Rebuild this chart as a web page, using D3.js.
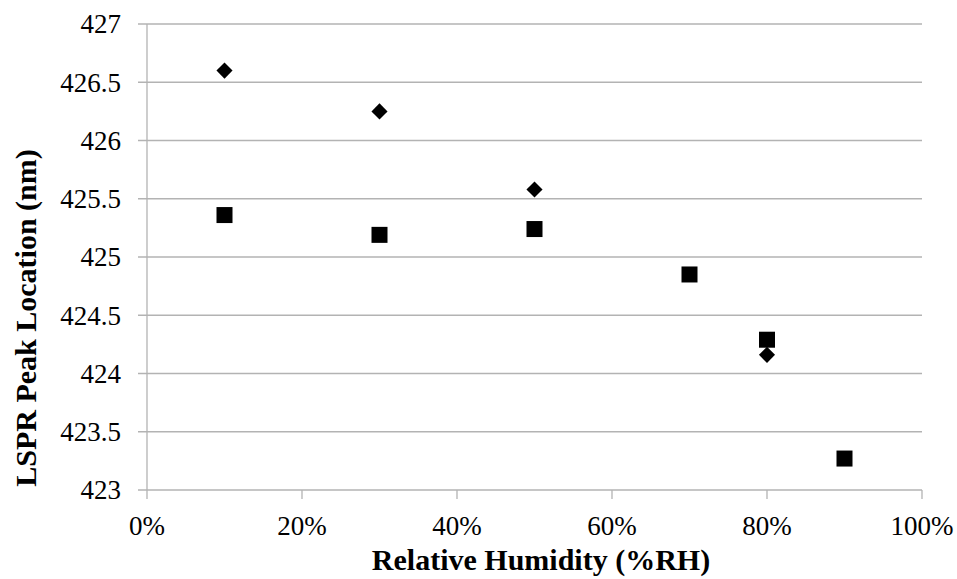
<!DOCTYPE html>
<html>
<head>
<meta charset="utf-8">
<script src="https://cdn.jsdelivr.net/npm/d3@7"></script>
<style>
  body { margin: 0; background: #fff; }
</style>
</head>
<body>
<svg id="chart" width="957" height="579"></svg>
<script>
// relative humidity (%) for each series
const humidityA = [10, 30, 50, 80]
const peakA = [426.6, 426.25, 425.58, 424.16]
const humidityB = [10, 30, 50, 70, 80, 90]
const peakB = [425.36, 425.19, 425.24, 424.85, 424.29, 423.27]
const yTicks = [423, 423.5, 424, 424.5, 425, 425.5, 426, 426.5, 427]
const xTicks = [0, 20, 40, 60, 80, 100]

const width = 957
const height = 579
const margin = {top: 24, right: 35, bottom: 89, left: 147}
const FONT = "'Liberation Serif', 'Times New Roman', Times, 'Nimbus Roman', 'FreeSerif', 'DejaVu Serif', 'Noto Serif', serif"

const svg = d3.select('#chart')

const x = d3.scaleLinear().domain([0, 100]).range([margin.left, width - margin.right])
const y = d3.scaleLinear().domain([423, 427]).range([height - margin.bottom, margin.top])

// horizontal gridlines
svg.append('g')
  .selectAll('line')
  .data(yTicks)
  .join('line')
  .attr('x1', margin.left - 9)
  .attr('x2', width - margin.right)
  .attr('y1', d => y(d))
  .attr('y2', d => y(d))
  .attr('stroke', '#b3b3b3')
  .attr('stroke-width', 1.3)

// y axis line
svg.append('line')
  .attr('x1', margin.left).attr('x2', margin.left)
  .attr('y1', y(427)).attr('y2', y(423))
  .attr('stroke', '#b3b3b3')
  .attr('stroke-width', 1.3)

// x ticks
svg.append('g')
  .selectAll('line')
  .data(xTicks)
  .join('line')
  .attr('x1', d => x(d)).attr('x2', d => x(d))
  .attr('y1', y(423)).attr('y2', y(423) + 9)
  .attr('stroke', '#b3b3b3')
  .attr('stroke-width', 1.3)

// tick labels
svg.append('g')
  .selectAll('text')
  .data(yTicks)
  .join('text')
  .attr('x', 121)
  .attr('y', d => y(d))
  .attr('dy', '0.35em')
  .attr('text-anchor', 'end')
  .style('font-family', FONT)
  .attr('font-size', 27)
  .text(d => d3.format('')(d))

svg.append('g')
  .selectAll('text')
  .data(xTicks)
  .join('text')
  .attr('x', d => x(d))
  .attr('y', 535)
  .attr('text-anchor', 'middle')
  .style('font-family', FONT)
  .attr('font-size', 27)
  .text(d => d + '%')

// axis titles
svg.append('text')
  .attr('x', 541)
  .attr('y', 570)
  .attr('text-anchor', 'middle')
  .style('font-family', FONT)
  .attr('font-size', 30)
  .attr('font-weight', 'bold')
  .text('Relative Humidity (%RH)')

svg.append('text')
  .attr('transform', 'translate(36, 318) rotate(-90)')
  .attr('text-anchor', 'middle')
  .style('font-family', FONT)
  .attr('font-size', 30)
  .attr('font-weight', 'bold')
  .text('LSPR Peak Location (nm)')

// series markers
const diamond = d3.symbol().type(d3.symbolDiamond2).size(165)
svg.append('g')
  .selectAll('path')
  .data(d3.zip(humidityA, peakA))
  .join('path')
  .attr('transform', d => `translate(${x(d[0])}, ${y(d[1])})`)
  .attr('d', diamond)
  .attr('fill', '#000')

svg.append('g')
  .selectAll('rect')
  .data(d3.zip(humidityB, peakB))
  .join('rect')
  .attr('x', d => x(d[0]) - 8)
  .attr('y', d => y(d[1]) - 8)
  .attr('width', 16)
  .attr('height', 16)
  .attr('fill', '#000')
</script>
</body>
</html>
